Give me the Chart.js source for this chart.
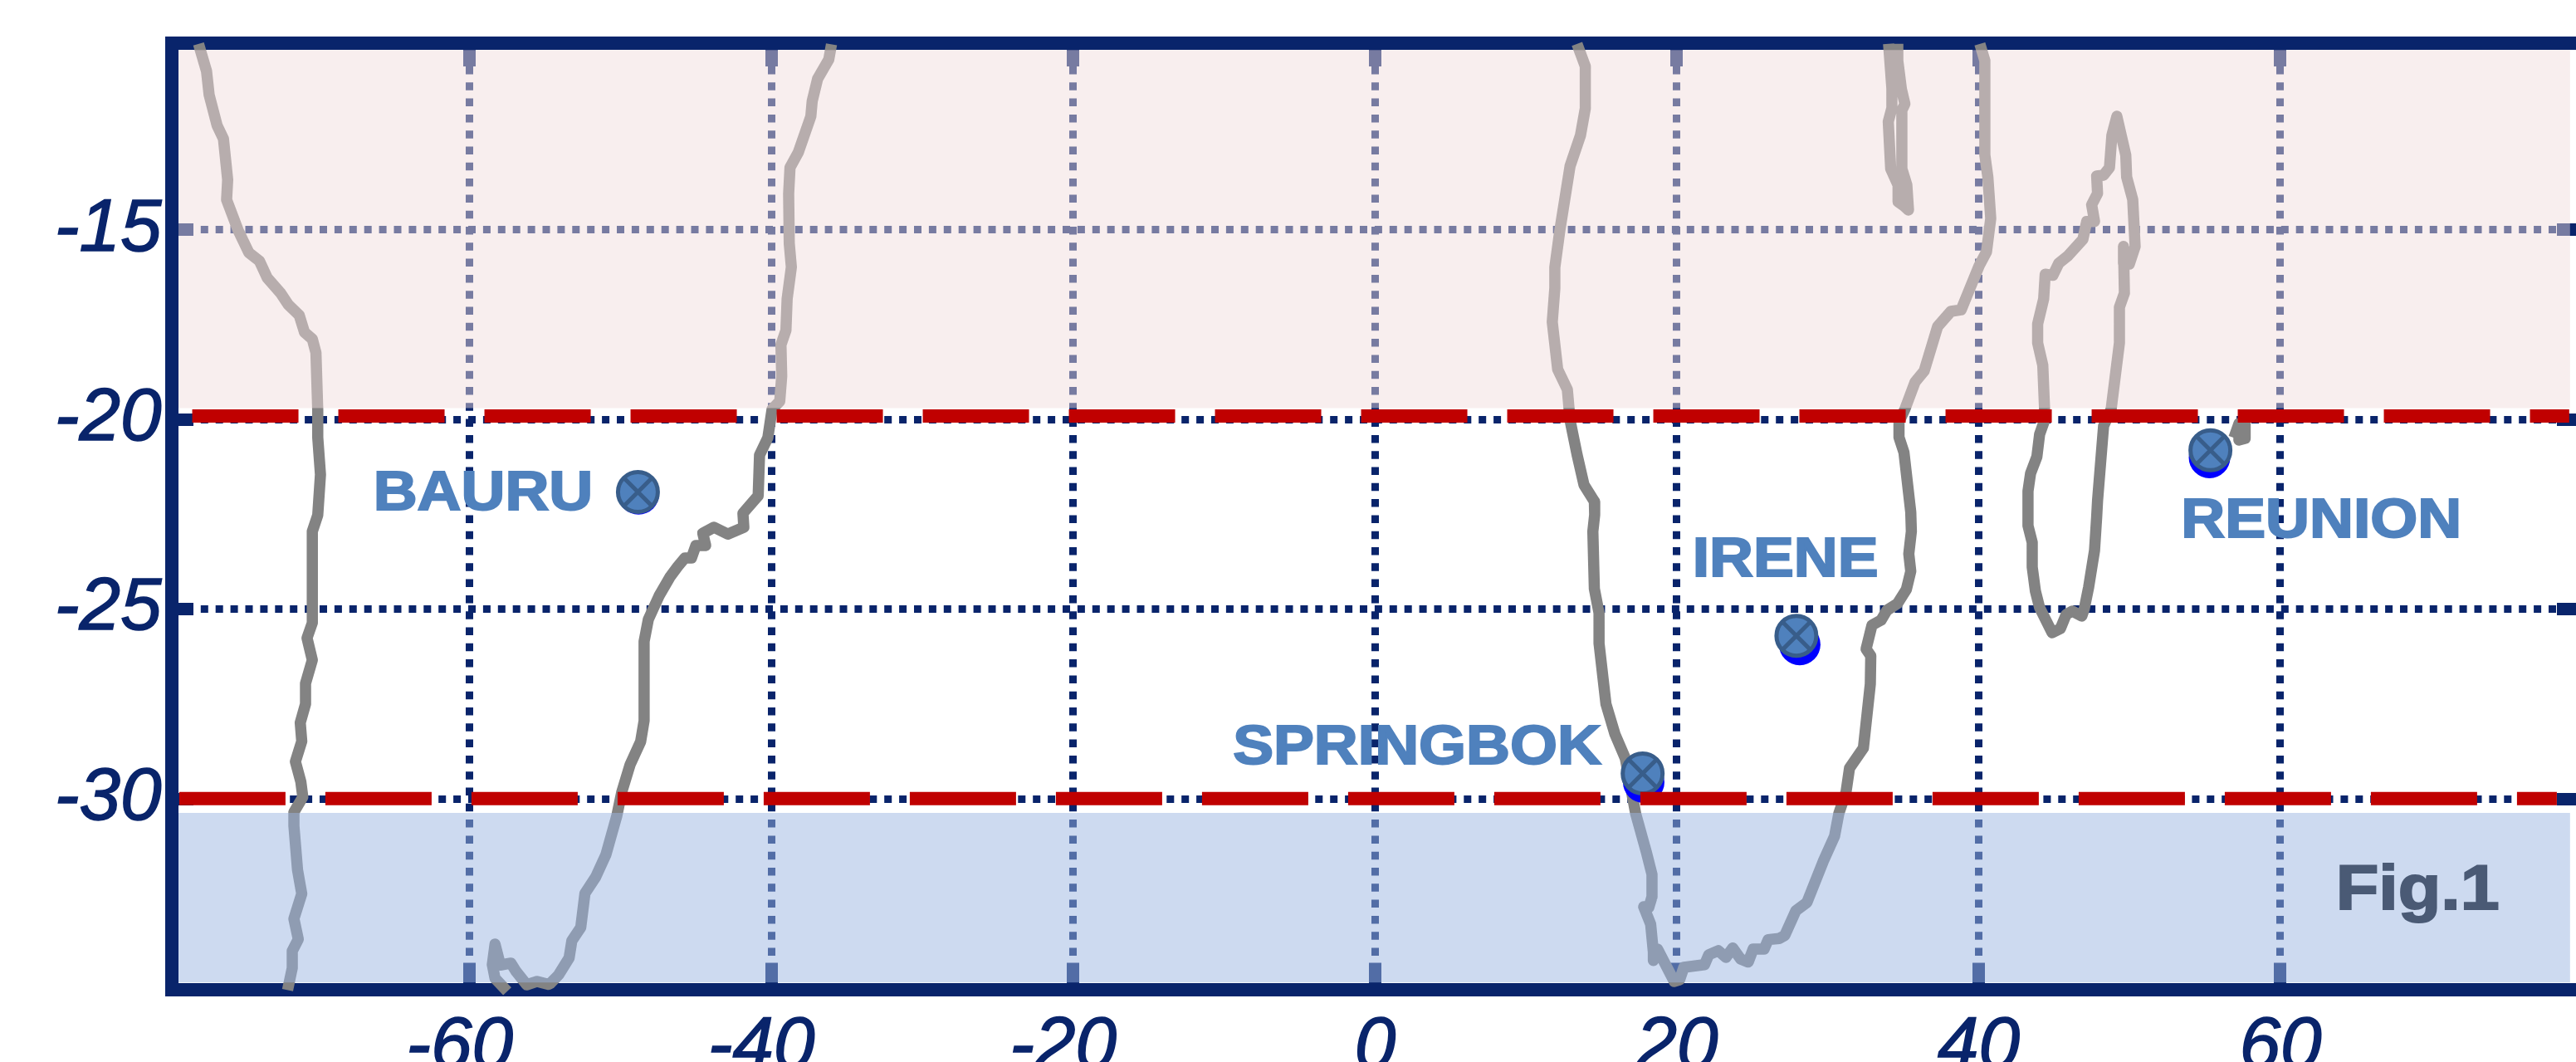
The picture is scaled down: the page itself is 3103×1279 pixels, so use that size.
<!DOCTYPE html>
<html>
<head>
<meta charset="utf-8">
<style>
  html, body { margin: 0; padding: 0; background: #fff; }
  canvas { display: block; }
</style>
<script src="https://cdn.jsdelivr.net/npm/chart.js@4"></script>
</head>
<body>
<canvas id="myChart" width="3103" height="1279"></canvas>
<script>
const xTickValues = [-60, -40, -20, 0, 20, 40, 60]
const yTickValues = [-15, -20, -25, -30]

const stationNames = ['BAURU', 'IRENE', 'SPRINGBOK', 'REUNION']
const stationLon = [-48.86, 27.92, 17.73, 55.36]
const stationLat = [-21.91, -25.70, -29.33, -20.81]
const blueLon = [-48.82, 28.14, 17.80, 55.30]
const blueLat = [-21.96, -25.93, -29.56, -21.00]
const stationLabelLon = [-59.12, 27.19, 2.78, 62.71]
const stationLabelLat = [-21.98, -23.74, -28.68, -22.71]
const figLabel = 'Fig.1'
const figLabelLon = [69.09]
const figLabelLat = [-32.44]

const red20Lon = [-78.40, 79.14]
const red20Lat = [-19.91, -19.91]
const red30Lon = [-79.26, 78.32]
const red30Lat = [-29.99, -29.99]

const pinkBandLon = [-79.31, 79.20]
const pinkBandLat = [-19.70, -19.70]
const pinkBandTop = -10.26
const blueBandLon = [-79.31, 79.20]
const blueBandLat = [-30.37, -30.37]
const blueBandBottom = -34.84

const saWestLon = [-77.98,-77.45,-77.28,-76.75,-76.33,-76.05,-76.12,-75.35,-74.65,-73.95,-73.42,-72.54,-72.02,-71.31,-70.96,-70.44,-70.20,-70.08,-70.08,-69.90,-70.08,-70.44,-70.44,-70.79,-70.44,-70.89,-70.89,-71.24,-71.14,-71.56,-71.20,-71.07,-71.66,-71.66,-71.42,-71.14,-71.66,-71.37,-71.77,-71.77,-72.08]
const saWestLat = [-10.10,-10.82,-11.44,-12.25,-12.60,-13.68,-14.21,-15.02,-15.60,-15.82,-16.27,-16.67,-16.98,-17.25,-17.70,-17.88,-18.24,-19.75,-20.47,-21.45,-22.52,-22.95,-25.36,-25.76,-26.34,-26.96,-27.50,-27.99,-28.48,-29.02,-29.55,-29.95,-30.35,-30.71,-31.87,-32.50,-33.16,-33.70,-34.01,-34.46,-35.04]

const saEastLon = [-36.03,-36.21,-36.95,-37.31,-37.40,-38.23,-38.78,-38.87,-38.83,-38.69,-38.97,-39.05,-39.38,-39.33,-39.46,-39.97,-40.25,-40.80,-40.89,-41.90,-41.84,-42.90,-43.82,-44.56,-44.37,-45.02,-45.31,-45.75,-46.21,-46.75,-47.46,-48.17,-48.45,-48.45,-48.68,-49.38,-49.93,-50.26,-50.98,-51.66,-52.37,-52.65,-53.24,-53.42,-54.12,-54.66,-54.80,-55.54,-56.23,-56.93,-57.28,-57.98,-58.33,-58.51,-58.33,-57.52]
const saEastLat = [-10.11,-10.51,-11.02,-11.61,-12.01,-12.96,-13.36,-14.05,-15.36,-15.98,-16.82,-17.65,-18.03,-18.86,-19.52,-19.73,-20.48,-20.94,-22.01,-22.47,-22.84,-23.02,-22.84,-23.00,-23.32,-23.32,-23.65,-23.65,-23.87,-24.16,-24.65,-25.27,-25.85,-27.94,-28.49,-29.10,-29.82,-30.45,-31.47,-32.06,-32.49,-33.39,-33.74,-34.19,-34.64,-34.86,-34.89,-34.81,-34.90,-34.55,-34.33,-34.38,-33.83,-34.37,-34.73,-35.07]

const africaLon = [13.38,13.93,13.93,13.61,12.92,12.24,11.91,11.91,11.74,12.10,12.74,12.92,13.38,13.84,14.53,14.55,14.43,14.53,14.84,14.84,15.30,15.90,16.58,17.27,17.98,18.35,18.35,18.13,17.80,18.26,18.44,18.44,18.72,19.82,20.18,20.46,21.83,22.11,22.75,23.25,23.70,24.22,24.73,25.05,25.78,26.05,26.78,27.15,27.88,28.62,29.72,30.45,30.73,31.21,31.44,32.36,32.82,32.85,32.54,32.93,33.53,33.92,34.62,35.21,35.50,35.37,35.54,35.50,35.05,34.72,34.72,35.11,35.79,36.39,37.28,38.16,38.84,40.03,40.52,40.80,40.61,40.41,40.41,40.08]
const africaLat = [-10.10,-10.69,-11.80,-12.51,-13.32,-15.02,-15.99,-16.54,-17.43,-18.68,-19.21,-20.02,-20.92,-21.72,-22.16,-22.51,-22.95,-24.46,-25.10,-25.90,-27.50,-28.30,-28.93,-30.39,-31.41,-31.99,-32.58,-32.87,-32.84,-33.30,-34.04,-34.26,-33.96,-34.81,-34.77,-34.44,-34.37,-34.11,-34.00,-34.18,-33.93,-34.22,-34.30,-33.96,-33.96,-33.71,-33.68,-33.60,-32.95,-32.73,-31.63,-30.98,-30.39,-29.82,-29.19,-28.66,-26.97,-26.23,-26.05,-25.42,-25.29,-25.03,-24.85,-24.48,-24.00,-23.54,-22.95,-22.44,-20.87,-20.47,-20.06,-19.73,-19.01,-18.72,-17.55,-17.15,-17.11,-15.95,-15.58,-14.70,-13.61,-13.03,-10.54,-10.10]

const riftLon = [34.03,34.25,34.25,34.01,34.17,34.66,34.66,35.05,35.35,35.24,34.91,34.91,35.11,34.88,34.64,34.64]
const riftLat = [-10.10,-11.28,-11.79,-12.15,-13.39,-13.82,-14.26,-14.37,-14.48,-13.82,-13.39,-11.85,-11.68,-11.29,-10.54,-10.10]

const madagascarLon = [44.37,44.25,43.91,43.91,44.31,44.41,44.92,45.31,45.91,46.91,47.16,47.68,47.49,47.88,47.82,48.28,48.67,48.83,49.16,49.75,49.81,50.21,50.37,49.99,49.60,49.60,49.66,49.33,49.33,48.78,48.28,47.88,47.82,47.68,47.29,47.00,46.84,46.21,45.80,45.42,44.87,44.04,43.76,43.55,43.55,43.27,43.27,43.44,43.86,44.04,44.43,44.37]
const madagascarLat = [-19.73,-18.57,-17.98,-17.48,-16.82,-16.17,-16.20,-15.88,-15.69,-15.25,-14.78,-14.78,-14.34,-14.04,-13.58,-13.56,-13.36,-12.51,-12.01,-13.03,-13.61,-14.20,-15.44,-15.90,-15.88,-15.44,-16.67,-17.04,-17.98,-19.73,-20.17,-22.14,-22.58,-23.45,-24.42,-24.99,-25.18,-25.05,-25.14,-25.51,-25.62,-24.96,-24.52,-23.89,-23.24,-22.80,-21.89,-21.42,-20.98,-20.39,-19.95,-19.73]

const reunionLon = [57.66,57.66,57.25,57.25,56.92]
const reunionLat = [-20.04,-20.50,-20.54,-20.11,-20.48]

const navy = '#09246B'
const gray = '#838383'
const pts = (lon, lat) => lon.map((x, i) => ({ x: x, y: lat[i] }))

const coast = (lon, lat) => ({
  data: pts(lon, lat),
  borderColor: gray,
  borderWidth: 13.5,
  borderJoinStyle: 'round',
  pointRadius: 0,
  fill: false,
  clip: false,
  order: 6
})

// text is not something chart.js places on its own
const textPlugin = {
  id: 'stationText',
  afterDatasetsDraw(chart) {
    const ctx = chart.ctx
    const xs = chart.scales.x
    const ys = chart.scales.y
    const put = (txt, lon, lat, size, color) => {
      ctx.save()
      ctx.translate(xs.getPixelForValue(lon), ys.getPixelForValue(lat))
      ctx.scale(1.11, 1)
      ctx.font = 'bold ' + size + 'px "Liberation Sans"'
      ctx.textAlign = 'center'
      ctx.textBaseline = 'middle'
      ctx.fillStyle = color
      ctx.strokeStyle = color
      ctx.lineWidth = 2
      ctx.fillText(txt, 0, 0)
      ctx.strokeText(txt, 0, 0)
      ctx.restore()
    }
    stationNames.forEach((n, i) => put(n, stationLabelLon[i], stationLabelLat[i], 66, '#4F81BD'))
    put(figLabel, figLabelLon[0], figLabelLat[0], 76, '#4A5A75')
  }
}

const setXTicks = scale => { scale.ticks = xTickValues.map(v => ({ value: v })) }
const setYTicks = scale => { scale.ticks = yTickValues.map(v => ({ value: v })) }

// the tick labels would otherwise push the plot area in from the canvas edge
const noPad = s => { s.paddingLeft = s.paddingRight = s.paddingTop = s.paddingBottom = 0 }

const xMin = -79.75, xMax = 79.59
const yMin = -35.02, yMax = -10.07

var ctx = document.getElementById('myChart').getContext('2d')
var myChart = new Chart(ctx, {
  type: 'line',
  data: {
    datasets: [
      { data: pts(red20Lon, red20Lat), borderColor: '#C00000', borderWidth: 16, borderDash: [128, 48], pointRadius: 0, order: 0 },
      { data: pts(red30Lon, red30Lat), borderColor: '#C00000', borderWidth: 16, borderDash: [128, 48], pointRadius: 0, order: 0 },
      { data: pts(stationLon, stationLat), showLine: false, pointStyle: 'crossRot', pointRadius: 24, pointBorderColor: '#385D8A', pointBorderWidth: 5, clip: false, order: 1 },
      { data: pts(stationLon, stationLat), showLine: false, pointStyle: 'circle', pointRadius: 24, pointBackgroundColor: '#4F81BD', pointBorderColor: '#385D8A', pointBorderWidth: 5, clip: false, order: 2 },
      { data: pts(blueLon, blueLat), showLine: false, pointStyle: 'circle', pointRadius: 25, pointBackgroundColor: '#0000FF', pointBorderColor: '#0000FF', pointBorderWidth: 0, clip: false, order: 3 },
      { data: pts(pinkBandLon, pinkBandLat), borderWidth: 0, pointRadius: 0, backgroundColor: 'rgba(240,219,219,0.48)', fill: { target: { value: pinkBandTop } }, order: 4 },
      { data: pts(blueBandLon, blueBandLat), borderWidth: 0, pointRadius: 0, backgroundColor: 'rgba(155,181,225,0.5)', fill: { target: { value: blueBandBottom } }, order: 5 },
      coast(saWestLon, saWestLat),
      coast(saEastLon, saEastLat),
      coast(africaLon, africaLat),
      coast(riftLon, riftLat),
      coast(madagascarLon, madagascarLat),
      coast(reunionLon, reunionLat)
    ]
  },
  options: {
    responsive: false,
    devicePixelRatio: 1,
    animation: false,
    events: [],
    layout: { padding: 0, autoPadding: false },
    plugins: { legend: { display: false }, tooltip: { enabled: false } },
    scales: {
      x: {
        type: 'linear', position: 'bottom', min: xMin, max: xMax,
        afterBuildTicks: setXTicks,
        afterFit: s => { s.height = 87.5; noPad(s) },
        border: { display: true, color: navy, width: 16, dash: [9.5, 9.8], dashOffset: 10.1 },
        grid: { color: navy, lineWidth: 9, tickColor: navy, tickWidth: 15, tickLength: -32 },
        ticks: {
          autoSkip: false, maxRotation: 0, color: navy, padding: 49,
          textStrokeColor: navy, textStrokeWidth: 1.5,
          font: { family: '"Liberation Sans"', style: 'italic', size: 89 },
          callback: v => (v < 0 ? v + ' ' : String(v))
        }
      },
      xTop: {
        type: 'linear', axis: 'x', position: 'top', min: xMin, max: xMax,
        afterBuildTicks: setXTicks,
        afterFit: s => { s.height = 51.5; noPad(s) },
        border: { display: true, color: navy, width: 16 },
        grid: { drawOnChartArea: false, tickColor: navy, tickWidth: 15, tickLength: -28.5 },
        ticks: { display: false }
      },
      y: {
        type: 'linear', position: 'left', min: yMin, max: yMax,
        afterBuildTicks: setYTicks,
        afterFit: s => { s.width = 207; noPad(s) },
        border: { display: true, color: navy, width: 16, dash: [9, 8.9], dashOffset: 9 },
        grid: { color: navy, lineWidth: 9, tickColor: navy, tickWidth: 15, tickLength: -26 },
        ticks: {
          autoSkip: false, color: navy, padding: 38.5,
          textStrokeColor: navy, textStrokeWidth: 1.5,
          font: { family: '"Liberation Sans"', style: 'italic', size: 89 },
          callback: v => String(v)
        }
      },
      yRight: {
        type: 'linear', axis: 'y', position: 'right', min: yMin, max: yMax,
        afterBuildTicks: setYTicks,
        afterFit: s => { s.width = 0; noPad(s) },
        border: { display: false },
        grid: { drawOnChartArea: false, tickColor: navy, tickWidth: 15, tickLength: -23 },
        ticks: { display: false }
      }
    }
  },
  plugins: [textPlugin]
})
</script>
</body>
</html>
